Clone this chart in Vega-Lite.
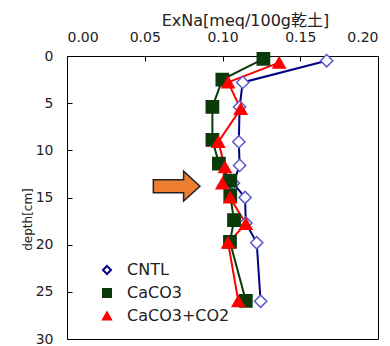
{
  "$schema": "https://vega.github.io/schema/vega-lite/v6.json",
  "width": 311,
  "height": 283,
  "autosize": "none",
  "padding": {"left": 67, "top": 56, "right": 12, "bottom": 7},
  "background": "#ffffff",
  "config": {
    "font": "DejaVu Sans, Noto Sans CJK JP",
    "view": {"stroke": "#000000", "strokeWidth": 1},
    "axis": {"grid": false, "domain": false, "labelFont": "DejaVu Sans", "labelColor": "#222222", "titleColor": "#222222", "titleFontWeight": "normal", "tickColor": "#000000"},
    "legend": {"labelFontSize": 16, "labelFont": "DejaVu Sans", "labelColor": "#222222"}
  },
  "datasets": {
    "series": [
      {"series": "CNTL", "depth": 0.5, "exna": 0.167},
      {"series": "CNTL", "depth": 2.8, "exna": 0.113},
      {"series": "CNTL", "depth": 5.4, "exna": 0.111},
      {"series": "CNTL", "depth": 9.1, "exna": 0.1105},
      {"series": "CNTL", "depth": 11.6, "exna": 0.111},
      {"series": "CNTL", "depth": 13.5, "exna": 0.107},
      {"series": "CNTL", "depth": 15.0, "exna": 0.1145},
      {"series": "CNTL", "depth": 17.7, "exna": 0.115},
      {"series": "CNTL", "depth": 19.8, "exna": 0.122},
      {"series": "CNTL", "depth": 26.0, "exna": 0.1245},
      {"series": "CaCO3", "depth": 0.3, "exna": 0.1263},
      {"series": "CaCO3", "depth": 2.5, "exna": 0.0999},
      {"series": "CaCO3", "depth": 5.4, "exna": 0.0935},
      {"series": "CaCO3", "depth": 8.9, "exna": 0.0935},
      {"series": "CaCO3", "depth": 11.4, "exna": 0.0977},
      {"series": "CaCO3", "depth": 13.2, "exna": 0.105},
      {"series": "CaCO3", "depth": 14.8, "exna": 0.105},
      {"series": "CaCO3", "depth": 17.4, "exna": 0.1074},
      {"series": "CaCO3", "depth": 19.7, "exna": 0.1048},
      {"series": "CaCO3", "depth": 25.95, "exna": 0.115},
      {"series": "CaCO3+CO2", "depth": 0.7, "exna": 0.1364},
      {"series": "CaCO3+CO2", "depth": 2.8, "exna": 0.1036},
      {"series": "CaCO3+CO2", "depth": 5.6, "exna": 0.1117},
      {"series": "CaCO3+CO2", "depth": 9.1, "exna": 0.0973},
      {"series": "CaCO3+CO2", "depth": 11.8, "exna": 0.1016},
      {"series": "CaCO3+CO2", "depth": 13.5, "exna": 0.0999},
      {"series": "CaCO3+CO2", "depth": 15.0, "exna": 0.1049},
      {"series": "CaCO3+CO2", "depth": 17.8, "exna": 0.115},
      {"series": "CaCO3+CO2", "depth": 19.8, "exna": 0.1036},
      {"series": "CaCO3+CO2", "depth": 26.0, "exna": 0.1102}
    ],
    "arrow": [{"exna": 0.0705, "depth": 13.8}]
  },
  "layer": [
    {
      "data": {"name": "series"},
      "mark": {"type": "line", "strokeWidth": 2},
      "encoding": {
        "x": {
          "field": "exna", "type": "quantitative",
          "scale": {"domain": [0, 0.2], "nice": false, "zero": false},
          "axis": {
            "orient": "top", "values": [0, 0.05, 0.1, 0.15, 0.2], "format": ".2f",
            "labelFontSize": 14, "tickSize": -5, "labelPadding": 17,
            "title": "ExNa[meq/100g乾土]", "titleFontSize": 16, "titleX": 178, "titleY": -36, "titleBaseline": "middle"
          }
        },
        "y": {
          "field": "depth", "type": "quantitative",
          "scale": {"domain": [0, 30], "reverse": true, "nice": false, "zero": false},
          "axis": {
            "values": [0, 5, 10, 15, 20, 25, 30], "labelFontSize": 14, "tickSize": -5, "labelPadding": 19,
            "title": "depth[cm]", "titleFontSize": 12, "titleX": -40, "titleY": 163, "titleBaseline": "middle", "titleAlign": "center", "titleAngle": -90
          }
        },
        "stroke": {
          "field": "series", "type": "nominal",
          "scale": {"domain": ["CNTL", "CaCO3", "CaCO3+CO2"], "range": ["#000080", "#0b3a0b", "#ff0000"]},
          "legend": {
            "title": null, "orient": "none", "legendX": 32, "legendY": 206,
            "symbolSize": 64, "labelOffset": 12, "rowPadding": 7, "symbolStrokeWidth": 2,
            "encode": {"symbols": {"update": {"shape": {"signal": "datum.value === 'CNTL' ? 'M-4.5,0L-1,0M1,0L5.9,0M0,-1L1,0L0,1L-1,0Z' : datum.value === 'CaCO3' ? 'M-4.5,0L5.9,0M-1,-1L1,-1L1,1L-1,1Z' : 'M-4.5,0L5.9,0M0,-1.1L1.2,0.9L-1.2,0.9Z'"}}}}
          }
        },
        "order": {"field": "depth", "type": "quantitative"}
      }
    },
    {
      "data": {"name": "series"},
      "mark": {"type": "point", "filled": true, "opacity": 1, "strokeWidth": 1.5, "size": 150},
      "encoding": {
        "x": {"field": "exna", "type": "quantitative"},
        "y": {"field": "depth", "type": "quantitative"},
        "shape": {
          "field": "series", "type": "nominal",
          "scale": {"domain": ["CNTL", "CaCO3", "CaCO3+CO2"], "range": ["diamond", "square", "triangle-up"]},
          "legend": {
            "title": null, "orient": "none", "legendX": 32, "legendY": 206,
            "encode": {"symbols": {"update": {"shape": {"signal": "datum.value === 'CNTL' ? 'M-4.5,0L-1,0M1,0L5.9,0M0,-1L1,0L0,1L-1,0Z' : datum.value === 'CaCO3' ? 'M-4.5,0L5.9,0M-1,-1L1,-1L1,1L-1,1Z' : 'M-4.5,0L5.9,0M0,-1.1L1.2,0.9L-1.2,0.9Z'"}}}}
          }
        },
        "fill": {"field": "series", "type": "nominal", "scale": {"domain": ["CNTL", "CaCO3", "CaCO3+CO2"], "range": ["#ffffff", "#0b3a0b", "#ff0000"]}, "legend": {"title": null, "orient": "none", "legendX": 32, "legendY": 206}},
        "stroke": {
          "condition": [
            {"test": "datum.series === 'CNTL'", "value": "#5a5acc"},
            {"test": "datum.series === 'CaCO3'", "value": "#0b3a0b"}
          ],
          "value": "#ff0000"
        }
      }
    },
    {
      "data": {"name": "arrow"},
      "mark": {"type": "point", "filled": true, "opacity": 1, "shape": "M-1,-0.28L0.3,-0.28L0.3,-0.64L1,0L0.3,0.64L0.3,0.28L-1,0.28Z", "size": 2172, "fill": "#ED7D31", "stroke": "#222222", "strokeWidth": 1.5},
      "encoding": {
        "x": {"field": "exna", "type": "quantitative"},
        "y": {"field": "depth", "type": "quantitative"}
      }
    }
  ]
}
